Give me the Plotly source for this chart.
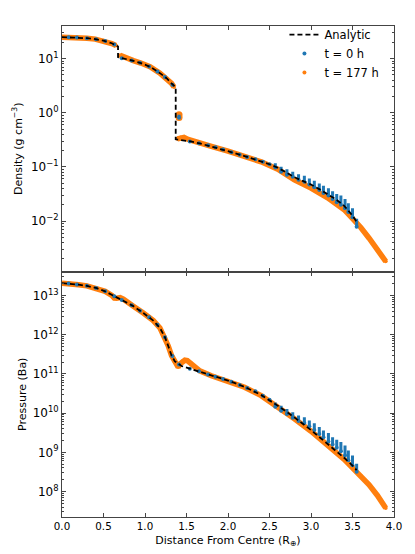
import plotly.graph_objects as go
from plotly.subplots import make_subplots

# analytic profile (density has jumps at the core / mantle boundaries)
ana_r = [0.0, 0.1, 0.2, 0.3, 0.4, 0.5, 0.6, 0.675, 0.675, 0.75, 0.86, 0.95, 1.06, 1.18, 1.26, 1.32, 1.37,
         1.37, 1.45, 1.55, 1.66, 1.8, 2.0, 2.2, 2.4, 2.5, 2.6, 2.7, 2.8, 2.9, 3.0, 3.1, 3.2, 3.3, 3.4,
         3.45, 3.5, 3.55]
ana_rho = [25.0, 24.8, 24.4, 23.9, 23.0, 21.5, 19.3, 16.8, 10.7, 10.1, 9.1, 8.3, 7.1, 5.4, 4.35, 3.5, 2.95,
           0.324, 0.313, 0.295, 0.272, 0.240, 0.195, 0.158, 0.127, 0.112, 0.0966, 0.0776, 0.0646,
           0.055, 0.0473, 0.0389, 0.0316, 0.0251, 0.0191, 0.0158, 0.0126, 0.0096]
ana_p_r = [0.0, 0.1, 0.2, 0.3, 0.42, 0.52, 0.6, 0.66, 0.74, 0.86, 0.98, 1.10, 1.18, 1.24, 1.28, 1.32, 1.36,
           1.40, 1.44, 1.55, 1.66, 1.8, 2.0, 2.2, 2.4, 2.6, 2.8, 3.0, 3.2, 3.4, 3.5, 3.55]
ana_p = [2.09e13, 2.04e13, 1.91e13, 1.78e13, 1.55e13, 1.29e13, 1.05e13, 8.9e12, 7.4e12, 5.4e12, 3.6e12,
         2.3e12, 1.5e12, 8.7e11, 5.2e11, 2.95e11, 2.1e11, 1.8e11, 1.6e11, 1.35e11, 1.15e11, 9.1e10, 6.8e10,
         4.7e10, 2.9e10, 1.55e10, 7.8e9, 3.7e9, 1.66e9, 7.2e8, 4.6e8, 3.5e8]

# t = 0 h particle shells: low / high value in each shell
t0_r = [0.08, 0.18, 0.30, 0.41, 0.52, 0.63, 0.72, 0.84, 0.94, 1.05, 1.15, 1.24, 1.33, 1.41, 1.54, 1.65,
        1.76, 1.85, 1.94, 2.04, 2.14, 2.23, 2.33, 2.42, 2.50, 2.57, 2.64, 2.71, 2.78, 2.85, 2.92, 2.98,
        3.04, 3.10, 3.15, 3.21, 3.26, 3.31, 3.36, 3.41, 3.45, 3.50, 3.55]
t0_rho_lo = [24.9, 24.5, 23.9, 22.9, 21.2, 18.2, 10.2, 9.3, 8.4, 7.2, 5.8, 4.6, 3.3, 0.81, 0.296, 0.275,
             0.25, 0.23, 0.21, 0.187, 0.168, 0.153, 0.138, 0.124, 0.112, 0.0973, 0.081, 0.0714, 0.0657,
             0.0579, 0.0532, 0.0475, 0.0419, 0.0374, 0.033, 0.0295, 0.0256, 0.0223, 0.0199, 0.0173,
             0.0146, 0.0118, 0.0078]
t0_rho_hi = [24.9, 24.5, 23.9, 22.9, 21.2, 18.2, 10.2, 9.3, 8.4, 7.2, 5.8, 4.6, 3.3, 0.92, 0.296, 0.275,
             0.25, 0.23, 0.21, 0.187, 0.168, 0.153, 0.138, 0.124, 0.112, 0.117, 0.101, 0.0906, 0.081,
             0.0734, 0.0686, 0.0612, 0.0555, 0.0495, 0.045, 0.0402, 0.0354, 0.0316, 0.0295, 0.0256,
             0.0213, 0.0173, 0.011]
t0_p_lo = [2.05e13, 1.94e13, 1.78e13, 1.57e13, 1.29e13, 9.6e12, 7.7e12, 5.7e12, 4.1e12, 2.8e12, 1.8e12,
           8.7e11, 2.9e11, 1.75e11, 1.37e11, 1.17e11, 9.7e10, 8.5e10, 7.4e10, 6.3e10, 5.2e10, 4.4e10,
           3.6e10, 2.8e10, 2.2e10, 1.46e10, 1.15e10, 9.5e9, 7.6e9, 6.3e9, 5.6e9, 4.6e9, 3.7e9, 2.95e9,
           2.43e9, 1.9e9, 1.58e9, 1.31e9, 1.07e9, 8.3e8, 6.3e8, 4.7e8, 3.2e8]
t0_p_hi = [2.05e13, 1.94e13, 1.78e13, 1.57e13, 1.29e13, 9.6e12, 7.7e12, 5.7e12, 4.1e12, 2.8e12, 1.8e12,
           8.7e11, 2.9e11, 1.75e11, 1.37e11, 1.17e11, 9.7e10, 8.5e10, 7.4e10, 6.3e10, 5.2e10, 4.4e10,
           3.6e10, 2.8e10, 2.2e10, 1.88e10, 1.55e10, 1.28e10, 1.05e10, 8.7e9, 7.8e9, 6.5e9, 5.5e9, 4.4e9,
           3.6e9, 3.1e9, 2.43e9, 2.09e9, 1.82e9, 1.5e9, 1.12e9, 8.3e8, 5.1e8]

# t = 177 h particles (a dense band), plus the stray shell near the mantle boundary
t177_r = [0.0, 0.1, 0.2, 0.3, 0.4, 0.5, 0.6, 0.65, None, 0.70, 0.75, 0.86, 0.95, 1.06, 1.18, 1.26, 1.32,
          1.35, None, 1.39, 1.43, 1.47, 1.52, 1.58, 1.66, 1.8, 2.0, 2.2, 2.4, 2.6, 2.8, 3.0, 3.2, 3.4, 3.5,
          3.6, 3.7, 3.8, 3.9]
t177_rho = [24.9, 24.8, 24.4, 23.9, 23.0, 21.5, 19.0, 17.6, None, 11.6, 10.6, 9.2, 8.3, 7.1, 5.4, 4.35,
            3.5, 3.0, None, 0.33, 0.35, 0.35, 0.322, 0.30, 0.272, 0.240, 0.195, 0.156, 0.124, 0.091,
            0.0575, 0.0407, 0.0269, 0.0162, 0.0112, 0.0076, 0.0048, 0.0030, 0.0018]
t177_p_r = [0.0, 0.1, 0.2, 0.3, 0.42, 0.52, 0.6, 0.63, 0.66, 0.70, 0.74, 0.78, 0.86, 0.98, 1.10, 1.18,
            1.24, 1.28, 1.32, 1.36, 1.40, 1.42, 1.45, 1.48, 1.51, 1.55, 1.60, 1.66, 1.8, 2.0, 2.2, 2.4,
            2.6, 2.8, 3.0, 3.2, 3.4, 3.5, 3.6, 3.7, 3.8, 3.9]
t177_p = [2.09e13, 2.04e13, 1.91e13, 1.78e13, 1.55e13, 1.29e13, 1.02e13, 8.7e12, 8.6e12, 8.9e12, 8.1e12,
          6.9e12, 5.4e12, 3.6e12, 2.3e12, 1.5e12, 8.7e11, 5.2e11, 2.95e11, 2.0e11, 1.5e11, 1.8e11,
          2.1e11, 2.25e11, 2.2e11, 1.9e11, 1.5e11, 1.2e11, 9.0e10, 6.7e10, 4.6e10, 2.8e10, 1.45e10,
          7.2e9, 3.45e9, 1.55e9, 6.6e8, 4.0e8, 2.5e8, 1.48e8, 7.9e7, 3.8e7]
stray_r = [1.41, 1.41]
stray_rho = [0.82, 0.92]

x_ticks = [0.0, 0.5, 1.0, 1.5, 2.0, 2.5, 3.0, 3.5, 4.0]
rho_ticks = [1e-2, 1e-1, 1e0, 1e1]
rho_labels = ["10<sup>−2</sup>", "10<sup>−1</sup>", "10<sup>0</sup>", "10<sup>1</sup>"]
p_ticks = [1e8, 1e9, 1e10, 1e11, 1e12, 1e13]
p_labels = ["10<sup>8</sup>", "10<sup>9</sup>", "10<sup>10</sup>", "10<sup>11</sup>",
            "10<sup>12</sup>", "10<sup>13</sup>"]

BLUE = "#1f77b4"
ORANGE = "#ff7f0e"
FONT = "DejaVu Sans"


def streaks(r, lo, hi):
    xs, ys = [], []
    for a, b, c in zip(r, lo, hi):
        xs += [a, a, None]
        ys += [b, c, None]
    return xs, ys


fig = make_subplots(rows=2, cols=1, shared_xaxes=True, vertical_spacing=0)

panels = [(1, t177_r, t177_rho, t0_rho_lo, t0_rho_hi, ana_r, ana_rho),
          (2, t177_p_r, t177_p, t0_p_lo, t0_p_hi, ana_p_r, ana_p)]
for row, orr, ory, blo, bhi, ar, ay in panels:
    first = row == 1
    fig.add_trace(go.Scatter(x=orr, y=ory, mode="lines", line=dict(color=ORANGE, width=5.5),
                             connectgaps=False, showlegend=False, hoverinfo="skip"), row=row, col=1)
    fig.add_trace(go.Scatter(x=[v for v in orr if v is not None], y=[v for v in ory if v is not None],
                             mode="markers", marker=dict(color=ORANGE, size=4), name="t = 177 h",
                             showlegend=first, legendrank=3), row=row, col=1)
    if first:
        fig.add_trace(go.Scatter(x=stray_r, y=stray_rho, mode="markers", showlegend=False,
                                 marker=dict(color=ORANGE, size=7)), row=row, col=1)
    sx, sy = streaks(t0_r, blo, bhi)
    fig.add_trace(go.Scatter(x=sx, y=sy, mode="lines", line=dict(color=BLUE, width=3),
                             showlegend=False, hoverinfo="skip"), row=row, col=1)
    fig.add_trace(go.Scatter(x=t0_r, y=blo, mode="markers", marker=dict(color=BLUE, size=4),
                             name="t = 0 h", showlegend=first, legendrank=2), row=row, col=1)
    fig.add_trace(go.Scatter(x=ar, y=ay, mode="lines", name="Analytic",
                             line=dict(color="black", width=1.8, dash="5px,3px"),
                             showlegend=first, legendrank=1), row=row, col=1)

axis_style = dict(showline=True, linecolor="#444", linewidth=1, mirror="allticks", ticks="inside",
                  ticklen=4, tickcolor="#444", showgrid=False, zeroline=False, automargin=False)

for row in (1, 2):
    fig.update_xaxes(range=[0, 4], tickvals=x_ticks, tickformat=".1f",
                     tickfont=dict(family=FONT, size=10.3, color="black"), **axis_style, row=row, col=1)

minor_rho = [m * 10.0 ** e for e in range(-3, 2) for m in range(2, 10)]
minor_p = [m * 10.0 ** e for e in range(7, 14) for m in range(2, 10)]
ytick_font = dict(family=FONT, size=12, color="black")
fig.update_yaxes(type="log", range=[-2.933, 1.604], tickvals=rho_ticks, ticktext=rho_labels,
                 tickfont=ytick_font,
                 minor=dict(tickvals=minor_rho, ticks="inside", ticklen=2, tickcolor="#444"),
                 title=dict(text="Density (g cm<sup>−3</sup>)", standoff=6,
                            font=dict(family=FONT, size=11, color="black")),
                 **axis_style, row=1, col=1)
fig.update_yaxes(type="log", range=[7.348, 13.617], tickvals=p_ticks, ticktext=p_labels,
                 tickfont=ytick_font,
                 minor=dict(tickvals=minor_p, ticks="inside", ticklen=2, tickcolor="#444"),
                 title=dict(text="Pressure (Ba)", standoff=3,
                            font=dict(family=FONT, size=11, color="black")),
                 **axis_style, row=2, col=1)
fig.update_xaxes(title=dict(text="Distance From Centre (R<sub>⊕</sub>)", standoff=4,
                            font=dict(family=FONT, size=11, color="black")), row=2, col=1)

# the page body adds an 8 px offset, so the figure is sized to fit the window
fig.update_layout(
    width=407, height=546,
    margin=dict(l=54, r=21, t=14, b=37),
    paper_bgcolor="white", plot_bgcolor="white",
    font=dict(family=FONT, size=10, color="black"),
    legend=dict(x=0.67, y=1.012, xanchor="left", yanchor="top", bgcolor="rgba(0,0,0,0)",
                font=dict(family=FONT, size=11.5, color="black"), itemwidth=30),
)

fig.write_html("out.html")
